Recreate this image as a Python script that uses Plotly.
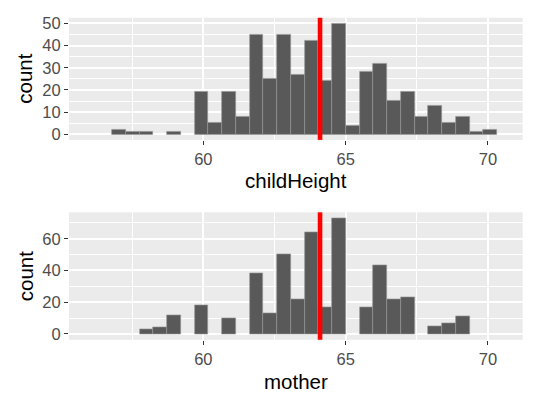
import plotly.graph_objects as go

# bin centres shared by both histograms (30 bins, width 14.5/30)
bin_centers = [56.067, 56.550, 57.033, 57.517, 58.000, 58.483, 58.967, 59.450,
               59.933, 60.417, 60.900, 61.383, 61.867, 62.350, 62.833, 63.317,
               63.800, 64.283, 64.767, 65.250, 65.733, 66.217, 66.700, 67.183,
               67.667, 68.150, 68.633, 69.117, 69.600, 70.083]
bin_width = 14.5 / 30

child_counts = [0, 0, 2, 1, 1, 0, 1, 0, 19, 5, 19, 8, 45, 25, 45, 27,
                42, 24, 50, 4, 28, 32, 15, 19, 8, 13, 5, 8, 1, 2]
mother_counts = [0, 0, 0, 0, 3, 4, 12, 0, 18, 0, 10, 0, 38, 13, 50, 22,
                 64, 17, 73, 0, 17, 43, 22, 23, 0, 5, 7, 11, 0, 0]

mean_line = 64.1
x_ticks = [60, 65, 70]
top_y_ticks = [0, 10, 20, 30, 40, 50]
bottom_y_ticks = [0, 20, 40, 60]
x_title_top = "childHeight"
x_title_bottom = "mother"
y_title = "count"

W, H = 553, 404
def px_x(p):
    return p / W
def px_y(p):
    return 1 - p / H

BAR = "#595959"
EDGE = "rgba(150,150,150,0.9)"
PANEL = "#EBEBEB"
TICKFONT = dict(family="Liberation Sans, Arial, sans-serif", size=16.5, color="#4D4D4D")
TITLEFONT = dict(family="Liberation Sans, Arial, sans-serif", size=20.5, color="#000000")

fig = go.Figure()

def add_hist(counts, xa, ya):
    xs = [c for c, n in zip(bin_centers, counts) if n > 0]
    ys = [n for n in counts if n > 0]
    fig.add_trace(go.Bar(x=xs, y=ys, width=bin_width, xaxis=xa, yaxis=ya,
                         marker=dict(color=BAR, line=dict(color=EDGE, width=0.7)),
                         showlegend=False, hoverinfo="x+y"))

add_hist(child_counts, "x", "y")
add_hist(mother_counts, "x2", "y2")

xdom = [px_x(69), px_x(522.7)]
xrange = [55.28, 71.22]

common_x = dict(range=xrange, tickvals=x_ticks, ticktext=[str(v) for v in x_ticks],
                ticks="outside", ticklen=4, tickwidth=1.2, tickcolor="#333333",
                tickfont=TICKFONT, showgrid=True, gridcolor="white", gridwidth=1.6,
                zeroline=False, showline=False,
                minor=dict(tickvals=[57.5, 62.5, 67.5], showgrid=True,
                           gridcolor="white", gridwidth=0.8, ticks=""))

fig.update_layout(
    width=W, height=H,
    margin=dict(l=0, r=0, t=0, b=0),
    paper_bgcolor="white", plot_bgcolor=PANEL,
    bargap=0,
    xaxis=dict(domain=xdom, anchor="y", **common_x),
    xaxis2=dict(domain=xdom, anchor="y2", **common_x),
    yaxis=dict(domain=[px_y(138.3), px_y(14)], anchor="x", range=[-2.5, 52.5],
               tickvals=top_y_ticks, ticks="outside", ticklen=4, tickwidth=1.2,
               tickcolor="#333333", tickfont=TICKFONT, showgrid=True,
               gridcolor="white", gridwidth=1.6, zeroline=False,
               minor=dict(tickvals=[5, 15, 25, 35, 45], showgrid=True,
                          gridcolor="white", gridwidth=0.8, ticks="")),
    yaxis2=dict(domain=[px_y(341.7), px_y(212)], anchor="x2", range=[-3.65, 76.65],
                tickvals=bottom_y_ticks, ticks="outside", ticklen=4, tickwidth=1.2,
                tickcolor="#333333", tickfont=TICKFONT, showgrid=True,
                gridcolor="white", gridwidth=1.6, zeroline=False,
                minor=dict(tickvals=[10, 30, 50, 70], showgrid=True,
                           gridcolor="white", gridwidth=0.8, ticks="")),
    shapes=[
        dict(type="line", xref="x", yref="y domain", x0=mean_line, x1=mean_line,
             y0=0, y1=1, line=dict(color="#FF0000", width=4.6), layer="above"),
        dict(type="line", xref="x2", yref="y2 domain", x0=mean_line, x1=mean_line,
             y0=0, y1=1, line=dict(color="#FF0000", width=4.6), layer="above"),
    ],
    annotations=[
        dict(text=x_title_top, xref="paper", yref="paper",
             x=px_x(295.8), y=px_y(180), xanchor="center", yanchor="middle",
             showarrow=False, font=TITLEFONT),
        dict(text=x_title_bottom, xref="paper", yref="paper",
             x=px_x(295.8), y=px_y(384), xanchor="center", yanchor="middle",
             showarrow=False, font=TITLEFONT),
        dict(text=y_title, xref="paper", yref="paper", textangle=-90,
             x=px_x(25), y=px_y(76), xanchor="center", yanchor="middle",
             showarrow=False, font=TITLEFONT),
        dict(text=y_title, xref="paper", yref="paper", textangle=-90,
             x=px_x(25), y=px_y(277), xanchor="center", yanchor="middle",
             showarrow=False, font=TITLEFONT),
    ],
)

fig.write_html("out.html", config={"displayModeBar": False},
               post_script="document.body.style.margin='0';document.body.style.overflow='hidden';")
